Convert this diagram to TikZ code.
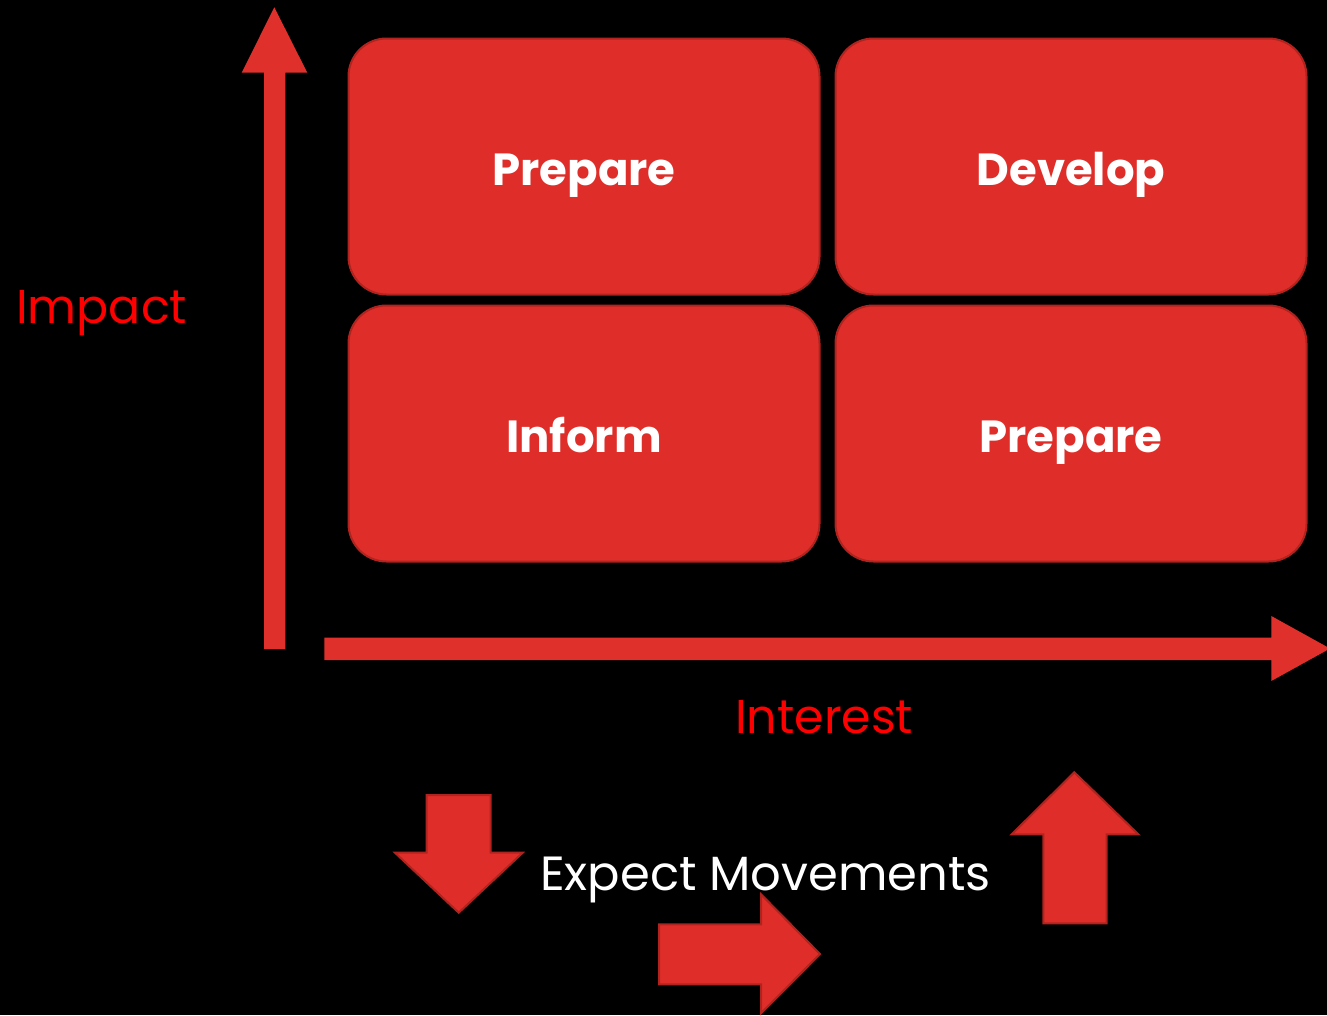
\documentclass[tikz,border=0pt]{standalone}
\usepackage{fontspec}
\setmainfont{Poppins}
\definecolor{boxred}{HTML}{DF2E29}
\definecolor{edgered}{HTML}{B0231F}
\definecolor{axisred}{HTML}{E0302B}
\definecolor{labelred}{HTML}{FF0000}
\begin{document}
\begin{tikzpicture}[x=1pt,y=-1pt,
  quad/.style={draw=edgered,line width=2pt,fill=boxred,rounded corners=38pt,
    minimum width=471pt,minimum height=256pt,inner sep=0pt,
    text height=37pt,text depth=0pt,
    text=white,font=\fontsize{45}{50}\selectfont\bfseries},
  axis/.style={fill=axisred,draw=none},
  blockarrow/.style={fill=boxred,draw=edgered,line width=2pt,line join=miter},
  axislabel/.style={text=labelred,font=\fontsize{47.5}{55}\selectfont,inner sep=0pt},
  movelabel/.style={text=white,font=\fontsize{48}{55}\selectfont,inner sep=0pt}]
\fill[black] (0,0) rectangle (1327,1015);
\useasboundingbox (0,0) rectangle (1327,1015);
% quadrant boxes
\node[quad] (q1) at (584,166.5) {Prepare};
\node[quad] (q2) at (1071,166.5) {Develop};
\node[quad] (q3) at (584,433.5) {Inform};
\node[quad] (q4) at (1071,433.5) {Prepare};
% vertical axis arrow
\fill[axis] (264,649) -- (264,72.7) -- (241.7,72.7) -- (274.3,7.3) -- (307.3,72.7) -- (285.3,72.7) -- (285.3,649) -- cycle;
% horizontal axis arrow
\fill[axis] (324.3,637.7) -- (1271.3,637.7) -- (1271.3,616) -- (1330,648.5) -- (1271.3,681) -- (1271.3,660) -- (324.3,660) -- cycle;
% labels
\node[axislabel,anchor=base west] (impact) at (16,323) {Impact};
\node[axislabel,anchor=base west] (interest) at (735,733) {Interest};
\node[movelabel,anchor=base west] (moves) at (540,890) {Expect Movements};
% down arrow
\draw[blockarrow] (426.7,795) -- (490.7,795) -- (490.7,852.7) -- (522.7,852.7) -- (458.7,912.7) -- (395,852.7) -- (426.7,852.7) -- cycle;
% right arrow
\draw[blockarrow] (659,924.3) -- (761,924.3) -- (761,894.3) -- (820,954) -- (761,1013.3) -- (761,984.3) -- (659,984.3) -- cycle;
% up arrow
\draw[blockarrow] (1043.3,923.3) -- (1043.3,834.3) -- (1011.7,834.3) -- (1074.3,772.3) -- (1138.3,834.3) -- (1106.7,834.3) -- (1106.7,923.3) -- cycle;
\end{tikzpicture}
\end{document}
